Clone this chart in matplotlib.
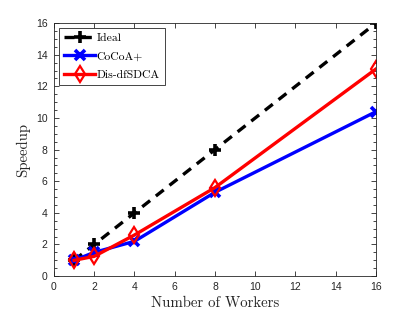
"""Speedup vs number of workers: Ideal, CoCoA+ and Dis-dfSDCA."""

import matplotlib
matplotlib.use("Agg")
import matplotlib.pyplot as plt
from matplotlib.ticker import MultipleLocator

workers = [1, 2, 4, 8, 16]
ideal = [1, 2, 4, 8, 16]
cocoa_plus = [1.0, 1.5, 2.2, 5.3, 10.4]
dis_dfsdca = [1.0, 1.25, 2.6, 5.6, 13.1]

SERIF = ["cmr10", "DejaVu Serif"]

figure = plt.figure(figsize=(4.15, 3.12), dpi=100)
axis = figure.add_axes([0.130, 0.115, 0.776, 0.811])

axis.plot(workers, ideal, color="black", linestyle=(0, (3, 2.2)), linewidth=2.4,
          marker="+", markersize=9, markeredgewidth=2.6, label="Ideal")
axis.plot(workers, cocoa_plus, color="#0000ff", linewidth=2.4,
          marker="x", markersize=7, markeredgewidth=2.6, label="CoCoA+")
axis.plot(workers, dis_dfsdca, color="#ff0000", linewidth=2.4,
          marker="d", markersize=8, markeredgewidth=1.6, markerfacecolor="none",
          label="Dis-dfSDCA")

axis.set_xlim(0, 16)
axis.set_ylim(0, 16)
axis.xaxis.set_major_locator(MultipleLocator(2))
axis.yaxis.set_major_locator(MultipleLocator(2))
axis.yaxis.set_minor_locator(MultipleLocator(0.5))
axis.tick_params(which="both", direction="in", top=True, right=True,
                 labelsize=7.5, colors="#262626", width=0.6)
axis.tick_params(which="major", length=3.5, pad=4.5)
axis.tick_params(which="minor", length=2)
for label in axis.get_xticklabels() + axis.get_yticklabels():
    label.set_family(["Liberation Sans", "DejaVu Sans"])
for spine in axis.spines.values():
    spine.set_linewidth(0.6)
    spine.set_color("#262626")

axis.set_xlabel("Number of Workers", family=SERIF, fontsize=10.7, color="#262626", labelpad=3)
axis.set_ylabel("Speedup", family=SERIF, fontsize=10.7, color="#262626", labelpad=4)

legend = axis.legend(loc="upper left", prop={"family": SERIF, "size": 8.4},
                     fancybox=False, framealpha=1, edgecolor="#262626",
                     handlelength=2.7, handletextpad=0.1, borderpad=0.45,
                     labelspacing=0.7, borderaxespad=0.4)
legend.get_frame().set_linewidth(0.6)

figure.savefig("out.png", dpi=100)
